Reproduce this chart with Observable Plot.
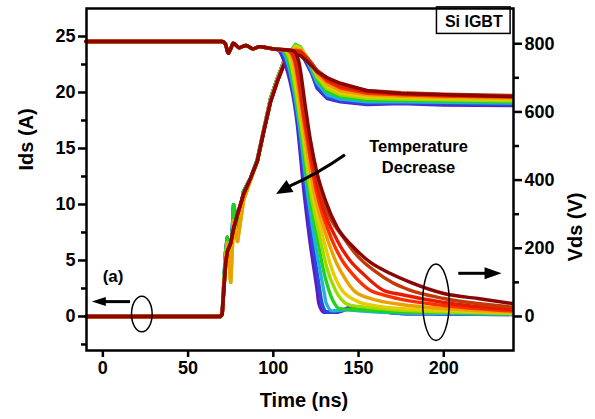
<!DOCTYPE html>
<html>
<head>
<meta charset="utf-8">
<script src="https://cdn.jsdelivr.net/npm/d3@7"></script>
<script src="https://cdn.jsdelivr.net/npm/@observablehq/plot@0.6"></script>
<style>
  html, body { margin: 0; padding: 0; background: #fff; }
  #chart svg { display: block; }
</style>
</head>
<body>
<div id="chart"></div>
<script>
// ---------- data ----------
// Curve colours, from violet (fastest) to dark red (slowest)
const colors = ["#5b1cc0", "#2c44e0", "#1fb2dc", "#1ed31e", "#9edc00", "#e6cc00",
                "#eba200", "#ff3000", "#e81a00", "#c23a08", "#8c0505"];

// Volts per ampere between the right (Vds) and left (Ids) axes
const VperA = 32.85;

// Ids (A): shared plateau before the fall
const idsPreT = [-10, 70, 72, 73.5, 75, 76.5, 80, 84, 88, 92, 96, 100];
const idsPreI = [24.55, 24.55, 24.3, 23.5, 23.9, 24.4, 24.0, 24.2, 23.9, 24.1, 24.0, 23.9];

// Ids (A): fall of each curve, [time ns, current A]
const idsFall = [
  [[103.2,23.75],[106.2,22.86],[114.0,17.23],[117.9,11.25],[121.4,6.79],[125.7,2.32],[126.7,1.16],[129.6,0.38],[137.5,0.38],[145.3,0.83],[157,0.6],[175,0.27],[200,0.22],[240,0.18]],
  [[104.0,23.75],[107.2,22.86],[114.5,17.23],[118.9,11.25],[122.8,6.79],[127.3,2.32],[128.5,1.2],[131.5,0.4],[139,0.45],[146.5,0.75],[158,0.55],[175,0.27],[200,0.22],[240,0.18]],
  [[104.8,23.75],[108.0,22.86],[115.1,17.23],[119.9,11.25],[124.3,6.79],[129.6,2.32],[131,1.2],[134.5,0.5],[142,0.6],[150,0.5],[175,0.31],[200,0.27],[240,0.2]],
  [[105.6,23.75],[108.9,22.86],[115.7,17.23],[120.8,11.25],[126.1,6.79],[129,4.4],[132.6,2.32],[135,1.4],[139,0.7],[150,0.6],[175,0.4],[200,0.36],[240,0.24]],
  [[106.4,23.75],[109.8,22.86],[116.2,17.23],[121.8,11.25],[127.7,6.79],[131.5,4.3],[136.5,2.32],[140,1.5],[145,1.0],[150,0.9],[175,0.54],[200,0.42],[240,0.28]],
  [[107.2,23.75],[110.7,22.86],[116.8,17.23],[122.8,11.25],[129.6,6.79],[134,4.4],[140.4,2.32],[145,1.7],[150,1.3],[160,0.95],[175,0.71],[200,0.54],[240,0.32]],
  [[108.0,23.75],[111.6,22.86],[117.4,17.23],[123.8,11.25],[132.0,6.79],[137,4.8],[142,3.4],[147.2,2.32],[155,1.7],[165,1.3],[175,1.07],[200,0.71],[240,0.4]],
  [[108.8,23.75],[112.4,22.86],[118.3,17.23],[125.2,11.25],[134.5,6.79],[140,5.1],[147,3.7],[157,2.32],[165,1.9],[175,1.52],[200,0.98],[240,0.49]],
  [[109.6,23.75],[113.0,22.86],[118.9,17.23],[126.3,11.25],[137.5,6.79],[145,5.0],[152,3.9],[164.8,2.32],[175,1.96],[200,1.25],[240,0.62]],
  [[110.6,23.75],[113.9,22.86],[119.8,17.23],[127.7,11.25],[142.3,6.79],[150,5.3],[160,4.0],[170,3.0],[180,2.35],[200,1.6],[240,0.85]],
  [[111.6,23.75],[114.8,22.86],[118.9,18.66],[121.8,15.7],[125.7,12.77],[130.6,10.36],[137.5,7.95],[147.2,6.16],[157,4.82],[168.7,3.84],[180.5,3.04],[200,2.05],[220,1.6],[240,1.16]]
];

// Vds (V): rise, three ringing profiles
const vRiseT = [-10, 69, 70, 72, 73, 75, 76.7, 79, 82.5, 86.6, 90.6, 94.4, 98.4, 102.3, 106.2, 110];
const vRiseA = [0, 0, 6, 155, 190, 215, 258, 300, 358, 405, 455, 543, 630, 689, 739, 762];
const vRiseB = [0, 0, 10, 190, 232, 160, 328, 264, 367, 405, 460, 548, 640, 698, 748, 777];
const vRiseC = [0, 0, 5, 170, 215, 100, 280, 220, 340, 400, 455, 545, 635, 695, 745, 772];
const vProfile = ["B", "B", "B", "B", "C", "C", "C", "A", "A", "A", "A"];

// Vds (V): overshoot and settling of each curve
const vTailT = [113, 116, 119.5, 122.5, 125.7, 131.6, 139.4, 155, 175, 200, 240];
const vTail = [
  [792, 777, 742, 713, 669, 639, 630, 622, 625, 620, 619],
  [790, 778, 745, 716, 675, 642, 632, 625, 626, 623, 622],
  [792, 782, 752, 722, 685, 650, 638, 630, 630, 628, 626],
  [798, 790, 760, 730, 695, 660, 645, 635, 634, 632, 630],
  [795, 788, 762, 735, 702, 668, 650, 640, 638, 636, 633],
  [790, 785, 762, 740, 708, 675, 656, 645, 642, 640, 637],
  [785, 782, 762, 742, 712, 682, 662, 650, 646, 643, 640],
  [780, 778, 760, 742, 718, 690, 670, 655, 650, 647, 644],
  [776, 775, 758, 742, 720, 695, 675, 660, 653, 650, 646],
  [772, 770, 755, 740, 722, 700, 680, 663, 656, 652, 648],
  [768, 765, 750, 735, 718, 700, 684, 662, 654, 650, 645]
];

// Axis ticks
const xTicks = [0, 50, 100, 150, 200];
const idsTicks = [0, 5, 10, 15, 20, 25];
const idsMinor = [-2.5, 2.5, 7.5, 12.5, 17.5, 22.5];
const vdsTicks = [0, 200, 400, 600, 800];
const vdsMinor = [100, 300, 500, 700];

// Annotations (data coordinates: ns, A)
const boxLabel = "Si IGBT";
const tempLabel = ["Temperature", "Decrease"];
const panelLabel = "(a)";
const ellipseT = [[17.1, 29.2], [187.9, 203.5]];
const ellipseI = [[-1.41, 1.77], [-2.2, 4.64]];
const arrowsT = [[16.2, -6.2], [208.8, 234.2], [142.3, 101.9]];
const arrowsI = [[1.28, 1.28], [3.81, 3.81], [14.4, 10.9]];

// ---------- tables ----------
const idsRows = [];
idsFall.forEach((fall, k) => {
  idsPreT.forEach((t, j) => idsRows.push({k, t, y: idsPreI[j], c: colors[k]}));
  fall.forEach(([t, i]) => idsRows.push({k, t, y: i, c: colors[k]}));
});
const rises = {A: vRiseA, B: vRiseB, C: vRiseC};
const vdsRows = [];
vTail.forEach((tail, k) => {
  const r = rises[vProfile[k]];
  vRiseT.forEach((t, j) => vdsRows.push({k, t, v: r[j], c: colors[k]}));
  vTailT.forEach((t, j) => vdsRows.push({k, t, v: tail[j], c: colors[k]}));
});

// annotation render mark: ellipses and filled arrows placed through the plot's scales
function annotations(index, scales) {
  const {x, y} = scales;
  const g = d3.create("svg:g");
  ellipseT.forEach((tt, i) => {
    const x0 = x(tt[0]), x1 = x(tt[1]), y0 = y(ellipseI[i][0]), y1 = y(ellipseI[i][1]);
    g.append("ellipse")
      .attr("cx", (x0 + x1) / 2).attr("cy", (y0 + y1) / 2)
      .attr("rx", Math.abs(x1 - x0) / 2).attr("ry", Math.abs(y1 - y0) / 2)
      .attr("fill", "none").attr("stroke", "black").attr("stroke-width", 1.5);
  });
  const heads = [[14, 4.5], [17, 6], [16, 7]];
  arrowsT.forEach((tt, i) => {
    const ax = x(tt[0]), ay = y(arrowsI[i][0]), bx = x(tt[1]), by = y(arrowsI[i][1]);
    const dx = bx - ax, dy = by - ay, L = Math.hypot(dx, dy);
    const ux = dx / L, uy = dy / L, px = -uy, py = ux;
    const [hl, hw] = heads[i];
    const baseX = bx - ux * hl, baseY = by - uy * hl;
    const bend = i === 2 ? 3 : 0;
    const mx = (ax + baseX) / 2 - px * bend, my = (ay + baseY) / 2 - py * bend;
    g.append("path")
      .attr("d", `M${ax},${ay}Q${mx},${my} ${baseX + ux},${baseY + uy}`)
      .attr("fill", "none").attr("stroke", "black").attr("stroke-width", 3);
    g.append("path")
      .attr("d", `M${bx},${by}L${baseX + px * hw},${baseY + py * hw}L${baseX - px * hw},${baseY - py * hw}Z`)
      .attr("fill", "black");
  });
  return g.node();
}

const font = "'Liberation Sans', Arial, sans-serif";

const chart = Plot.plot({
  width: 595,
  height: 419,
  marginLeft: 86,
  marginRight: 82,
  marginTop: 8,
  marginBottom: 69,
  x: {domain: [-9.6, 240.9]},
  y: {domain: [-3.04, 27.5]},
  color: {type: "identity"},
  style: {fontFamily: font, fontWeight: "bold", fontSize: "18px", color: "black", background: "white"},
  marks: [
    Plot.line(vdsRows, {x: "t", y: d => d.v / VperA, z: "k", stroke: "c", strokeWidth: 3.5, curve: "linear"}),
    Plot.line(idsRows, {x: "t", y: "y", z: "k", stroke: "c", strokeWidth: 3.4, curve: "monotone-x"}),
    Plot.rect([boxLabel], {x1: 196, x2: 239.2, y1: 25.23, y2: 27.6, fill: "white", stroke: "black", strokeWidth: 1.5}),
    Plot.text([boxLabel], {x: 217.6, y: 26.3, text: d => d, fontSize: 16, fontWeight: "bold", fill: "black"}),
    Plot.text(tempLabel, {x: 185.2, y: (d, i) => i === 0 ? 15.2 : 13.3, text: d => d, fontSize: 16.5, fontWeight: "bold", fill: "black"}),
    Plot.text([panelLabel], {x: 6.0, y: 3.57, text: d => d, fontSize: 17, fontWeight: "bold", fill: "black"}),
    annotations,
    Plot.frame({stroke: "black", strokeWidth: 2.5}),
    Plot.axisX({ticks: xTicks, tickSize: 7, tickPadding: 4, strokeWidth: 2.5, label: null, fill: "black"}),
    Plot.axisY({anchor: "left", ticks: idsTicks, tickSize: 8, tickPadding: 3, strokeWidth: 2.5, label: null, fill: "black"}),
    Plot.axisY({anchor: "left", ticks: idsMinor, tickSize: 5, strokeWidth: 2.5, label: null, tickFormat: () => ""}),
    Plot.axisY({anchor: "right", ticks: vdsTicks.map(v => v / VperA), tickFormat: d => String(Math.round(d * VperA)),
                tickSize: 8, tickPadding: 3, strokeWidth: 2.5, label: null, fill: "black"}),
    Plot.axisY({anchor: "right", ticks: vdsMinor.map(v => v / VperA), tickSize: 5, strokeWidth: 2.5, label: null, tickFormat: () => ""}),
    Plot.text(["Ids (A)"], {frameAnchor: "left", dx: -60, dy: -9, rotate: -90, text: d => d, fontSize: 20, fontWeight: "bold", fill: "black"}),
    Plot.text(["Vds (V)"], {frameAnchor: "right", dx: 62, dy: 13, rotate: -90, text: d => d, fontSize: 20, fontWeight: "bold", fill: "black"}),
    Plot.text(["Time (ns)"], {frameAnchor: "bottom", dx: 4, dy: 56, text: d => d, fontSize: 20, fontWeight: "bold", fill: "black"})
  ]
});
document.getElementById("chart").appendChild(chart);
</script>
</body>
</html>
